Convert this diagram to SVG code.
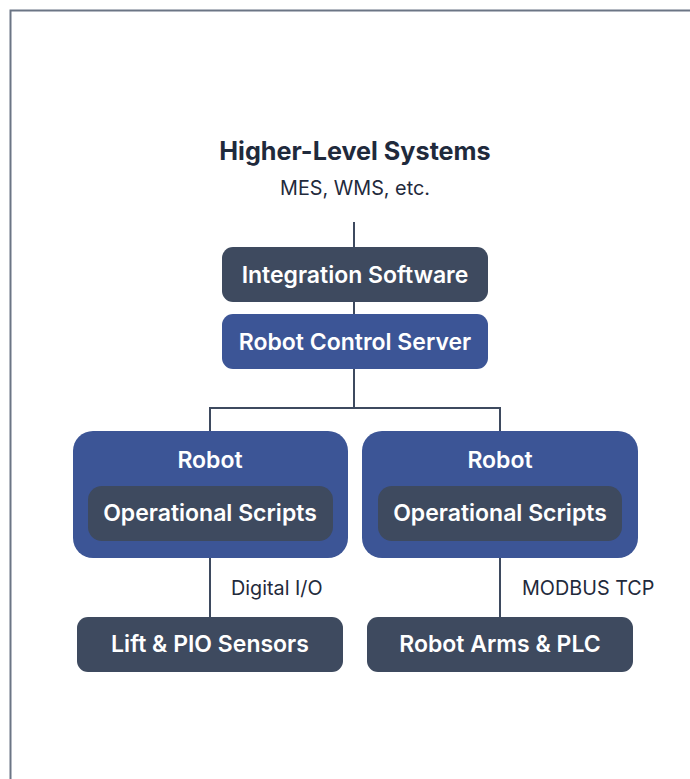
<svg xmlns="http://www.w3.org/2000/svg" width="690" height="779" viewBox="0 0 690 779">
<style>
.t{font-family:Inter,"Liberation Sans",sans-serif;text-anchor:middle}
.w{fill:#ffffff;font-weight:600;font-size:23px}
.dark{fill:#3e4a5f}
.blue{fill:#3c5596}
.lbl{font-family:Inter,"Liberation Sans",sans-serif;fill:#1f2a3c;font-size:19.8px}
.ln{stroke:#3e4a5f;stroke-width:2;fill:none}
</style>
<rect width="690" height="779" fill="#ffffff"/>
<path d="M10.5,779 V10.5 H690" fill="none" stroke="#6b7585" stroke-width="2"/>
<g id="higher-level">
<text class="t" x="355" y="160" font-size="25.2" font-weight="700" fill="#1f2a3c">Higher-Level Systems</text>
<text class="lbl" x="355" y="195" text-anchor="middle">MES, WMS, etc.</text>
</g>
<g id="connectors">
<path class="ln" d="M354,222 V247"/>
<path class="ln" d="M354,302 V314"/>
<path class="ln" d="M354,369 V408 M210,431 V408 H500 V431"/>
<path class="ln" d="M210,558 V617"/>
<path class="ln" d="M500,558 V617"/>
<text class="lbl" x="231" y="595">Digital I/O</text>
<text class="lbl" x="522" y="595">MODBUS TCP</text>
</g>
<g id="integration-software">
<rect class="dark" x="222" y="247" width="266" height="55" rx="11"/>
<text class="t w" x="355" y="283">Integration Software</text>
</g>
<g id="robot-control-server">
<rect class="blue" x="222" y="314" width="266" height="55" rx="11"/>
<text class="t w" x="355" y="350">Robot Control Server</text>
</g>
<g id="robot-left">
<rect class="blue" x="73" y="431" width="275" height="127" rx="20"/>
<text class="t w" x="210" y="468">Robot</text>
<g id="scripts-left">
<rect class="dark" x="88" y="486" width="245" height="55" rx="14"/>
<text class="t w" x="210" y="521">Operational Scripts</text>
</g>
</g>
<g id="robot-right">
<rect class="blue" x="362" y="431" width="276" height="127" rx="20"/>
<text class="t w" x="500" y="468">Robot</text>
<g id="scripts-right">
<rect class="dark" x="378" y="486" width="244" height="55" rx="14"/>
<text class="t w" x="500" y="521">Operational Scripts</text>
</g>
</g>
<g id="lift-pio">
<rect class="dark" x="77" y="617" width="266" height="55" rx="11"/>
<text class="t w" x="210" y="652">Lift &amp; PIO Sensors</text>
</g>
<g id="robot-arms-plc">
<rect class="dark" x="367" y="617" width="266" height="55" rx="11"/>
<text class="t w" x="500" y="652">Robot Arms &amp; PLC</text>
</g>
</svg>
